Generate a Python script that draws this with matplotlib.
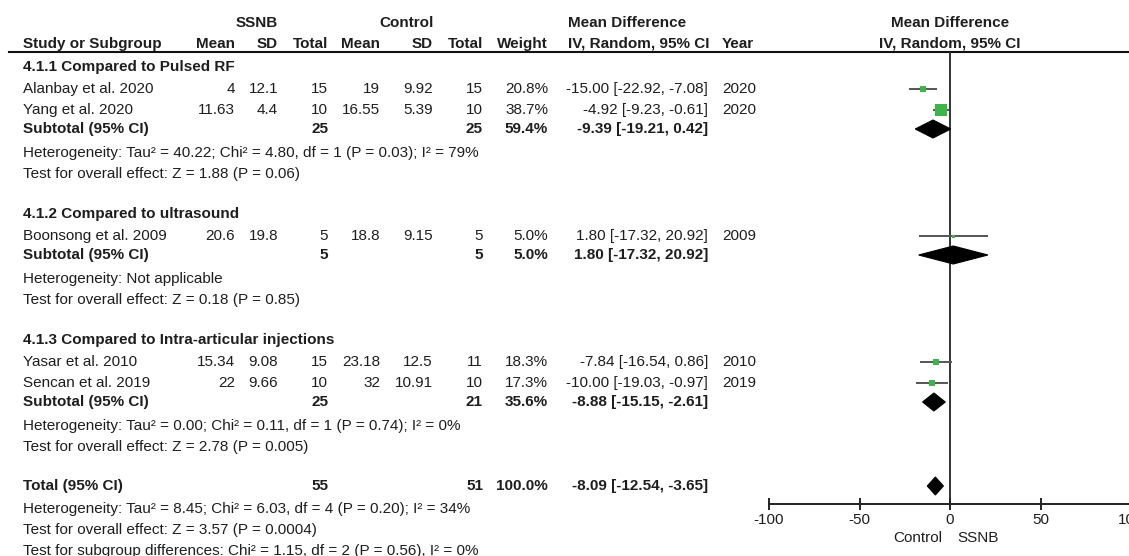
import matplotlib
matplotlib.use("Agg")
import matplotlib.pyplot as plt
from matplotlib.patches import Polygon

# ---------------------------------------------------------------- data
subgroup_titles = [
    "4.1.1 Compared to Pulsed RF",
    "4.1.2 Compared to ultrasound",
    "4.1.3 Compared to Intra-articular injections",
]
study_names = ["Alanbay et al. 2020", "Yang et al. 2020", "Boonsong et al. 2009",
               "Yasar et al. 2010", "Sencan et al. 2019"]
study_group = [0, 0, 1, 2, 2]
ssnb_mean = [4, 11.63, 20.6, 15.34, 22]
ssnb_sd = [12.1, 4.4, 19.8, 9.08, 9.66]
ssnb_n = [15, 10, 5, 15, 10]
ctrl_mean = [19, 16.55, 18.8, 23.18, 32]
ctrl_sd = [9.92, 5.39, 9.15, 12.5, 10.91]
ctrl_n = [15, 10, 5, 11, 10]
study_weight = [20.8, 38.7, 5.0, 18.3, 17.3]
study_md = [-15.00, -4.92, 1.80, -7.84, -10.00]
study_lo = [-22.92, -9.23, -17.32, -16.54, -19.03]
study_hi = [-7.08, -0.61, 20.92, 0.86, -0.97]
study_year = [2020, 2020, 2009, 2010, 2019]

sub_ssnb_n = [25, 5, 25]
sub_ctrl_n = [25, 5, 21]
sub_weight = [59.4, 5.0, 35.6]
sub_md = [-9.39, 1.80, -8.88]
sub_lo = [-19.21, -17.32, -15.15]
sub_hi = [0.42, 20.92, -2.61]
sub_heterogeneity = [
    "Heterogeneity: Tau² = 40.22; Chi² = 4.80, df = 1 (P = 0.03); I² = 79%",
    "Heterogeneity: Not applicable",
    "Heterogeneity: Tau² = 0.00; Chi² = 0.11, df = 1 (P = 0.74); I² = 0%",
]
sub_overall = [
    "Test for overall effect: Z = 1.88 (P = 0.06)",
    "Test for overall effect: Z = 0.18 (P = 0.85)",
    "Test for overall effect: Z = 2.78 (P = 0.005)",
]

total_ssnb_n = 55
total_ctrl_n = 51
total_weight = 100.0
total_md = -8.09
total_lo = -12.54
total_hi = -3.65
total_notes = [
    "Heterogeneity: Tau² = 8.45; Chi² = 6.03, df = 4 (P = 0.20); I² = 34%",
    "Test for overall effect: Z = 3.57 (P = 0.0004)",
    "Test for subgroup differences: Chi² = 1.15, df = 2 (P = 0.56), I² = 0%",
]

axis_ticks = [-100, -50, 0, 50, 100]
favours_left = "Control"
favours_right = "SSNB"

# ---------------------------------------------------------------- layout (pixels)
W, H, DPI = 1129, 556, 100
TXT = "#1e1e1e"
GREEN = "#3cb54a"
FS = 11

X_STUDY = 23
X_SM, X_SSD, X_SN = 235, 278, 328
X_CM, X_CSD, X_CN = 380, 433, 483
X_W = 548
X_CI = 708
X_MDH = 568
X_YEAR = 722
PLOT_L, PLOT_R = 769, 1131          # -100 .. 100
Y_RULE, Y_AXIS = 52, 504

plt.rcParams['font.family'] = ['Liberation Sans', 'DejaVu Sans']
plt.rcParams['axes.unicode_minus'] = False

fig = plt.figure(figsize=(W / DPI, H / DPI), dpi=DPI)
fig.patch.set_facecolor("white")

tax = fig.add_axes([0, 0, 1, 1])
tax.set_xlim(0, W)
tax.set_ylim(H, 0)
tax.axis("off")

fax = fig.add_axes([PLOT_L / W, (H - Y_AXIS) / H, (PLOT_R - PLOT_L) / W, (Y_AXIS - Y_RULE) / H])
fax.set_xlim(axis_ticks[0], axis_ticks[-1])
fax.set_ylim(Y_AXIS, Y_RULE)
fax.patch.set_alpha(0)
for s in ("top", "left", "right"):
    fax.spines[s].set_visible(False)
fax.spines["bottom"].set_linewidth(1.4)
fax.spines["bottom"].set_color("#222222")
fax.set_yticks([])
fax.set_xticks(axis_ticks)
fax.set_xticklabels([str(t) for t in axis_ticks])
fax.tick_params(axis="x", direction="inout", length=9, width=1.4, pad=2,
                labelsize=FS, labelcolor=TXT, color="#222222")
fax.axvline(0, color="#333333", lw=1.4, zorder=1)


def put(x, y, s, ha="left", bold=False):
    tax.text(x, y, s, ha=ha, va="center", fontsize=FS, color=TXT,
             fontweight="bold" if bold else "normal")


def ci_text(md, lo, hi):
    return f"{md:.2f} [{lo:.2f}, {hi:.2f}]"


def diamond(md, lo, hi, y, half=9):
    fax.add_patch(Polygon([(lo, y), (md, y - half), (hi, y), (md, y + half)],
                          closed=True, facecolor="black", edgecolor="black",
                          lw=0.8, clip_on=False, zorder=3))


# header
put(257, 23, "SSNB", ha="center", bold=True)
put(407, 23, "Control", ha="center", bold=True)
put(X_MDH, 23, "Mean Difference", bold=True)
put(950, 23, "Mean Difference", ha="center", bold=True)
put(X_STUDY, 44, "Study or Subgroup", bold=True)
for x, lab in [(X_SM, "Mean"), (X_SSD, "SD"), (X_SN, "Total"),
               (X_CM, "Mean"), (X_CSD, "SD"), (X_CN, "Total"), (X_W, "Weight")]:
    put(x, 44, lab, ha="right", bold=True)
put(X_MDH, 44, "IV, Random, 95% CI", bold=True)
put(X_YEAR, 44, "Year", bold=True)
put(950, 44, "IV, Random, 95% CI", ha="center", bold=True)
tax.plot([9, W], [Y_RULE, Y_RULE], color="#111111", lw=1.5)

# body
y = 67
for g, title in enumerate(subgroup_titles):
    put(X_STUDY, y, title, bold=True)
    y += 22
    members = [i for i, sg in enumerate(study_group) if sg == g]
    for k, i in enumerate(members):
        if k:
            y += 21
        put(X_STUDY, y, study_names[i])
        put(X_SM, y, f"{ssnb_mean[i]:g}", ha="right")
        put(X_SSD, y, f"{ssnb_sd[i]:g}", ha="right")
        put(X_SN, y, f"{ssnb_n[i]}", ha="right")
        put(X_CM, y, f"{ctrl_mean[i]:g}", ha="right")
        put(X_CSD, y, f"{ctrl_sd[i]:g}", ha="right")
        put(X_CN, y, f"{ctrl_n[i]}", ha="right")
        put(X_W, y, f"{study_weight[i]:.1f}%", ha="right")
        put(X_CI, y, ci_text(study_md[i], study_lo[i], study_hi[i]), ha="right")
        put(X_YEAR, y, f"{study_year[i]}")
        fax.hlines(y, study_lo[i], study_hi[i], color="#555555", lw=1.4,
                   clip_on=False, zorder=2)
        side_px = max(3.0, 0.33 * study_weight[i])
        fax.plot(study_md[i], y, "s", ms=side_px * 0.72, color=GREEN,
                 mec=GREEN, mew=0, clip_on=False, zorder=3)
    y += 19
    put(X_STUDY, y, "Subtotal (95% CI)", bold=True)
    put(X_SN, y, f"{sub_ssnb_n[g]}", ha="right", bold=True)
    put(X_CN, y, f"{sub_ctrl_n[g]}", ha="right", bold=True)
    put(X_W, y, f"{sub_weight[g]:.1f}%", ha="right", bold=True)
    put(X_CI, y, ci_text(sub_md[g], sub_lo[g], sub_hi[g]), ha="right", bold=True)
    diamond(sub_md[g], sub_lo[g], sub_hi[g], y)
    y += 24
    put(X_STUDY, y, sub_heterogeneity[g])
    y += 21
    put(X_STUDY, y, sub_overall[g])
    y += 40

# overall
y -= 1
put(X_STUDY, y, "Total (95% CI)", bold=True)
put(X_SN, y, f"{total_ssnb_n}", ha="right", bold=True)
put(X_CN, y, f"{total_ctrl_n}", ha="right", bold=True)
put(X_W, y, f"{total_weight:.1f}%", ha="right", bold=True)
put(X_CI, y, ci_text(total_md, total_lo, total_hi), ha="right", bold=True)
diamond(total_md, total_lo, total_hi, y)
y += 23
for note in total_notes:
    put(X_STUDY, y, note)
    y += 21

put(942, 538, favours_left, ha="right")
put(957, 538, favours_right, ha="left")

fig.savefig("out.png", dpi=DPI, facecolor="white")
